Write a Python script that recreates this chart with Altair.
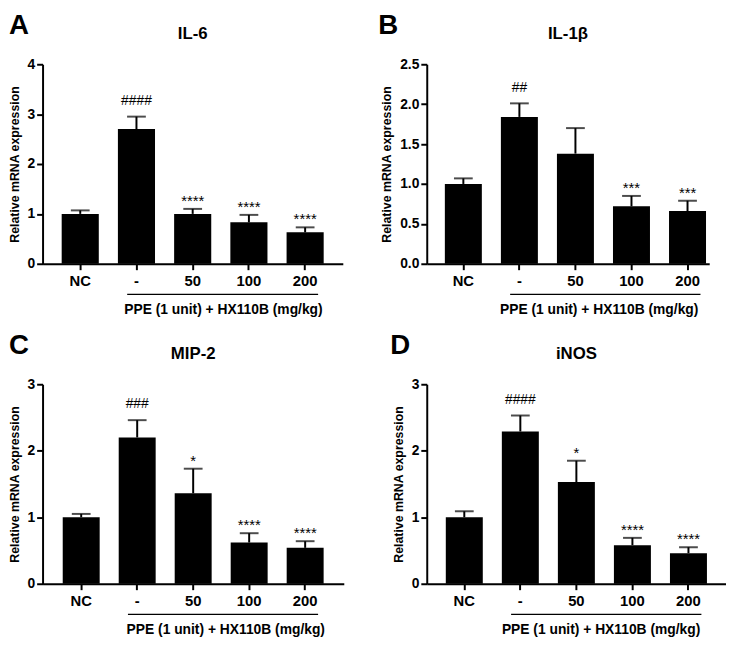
import altair as alt
import pandas as pd

FONT = "Liberation Sans, Arial, Helvetica, sans-serif"

groups = ["NC", "-", "50", "100", "200"]
group_label = "PPE (1 unit) + HX110B (mg/kg)"
y_title = "Relative mRNA expression"

il6_mean = [1.00, 2.70, 1.00, 0.83, 0.63]
il6_sem = [0.07, 0.25, 0.10, 0.15, 0.10]
il6_sig = ["", "####", "****", "****", "****"]

il1b_mean = [1.00, 1.84, 1.38, 0.72, 0.66]
il1b_sem = [0.07, 0.17, 0.32, 0.13, 0.13]
il1b_sig = ["", "##", "", "***", "***"]

mip2_mean = [1.00, 2.20, 1.36, 0.62, 0.54]
mip2_sem = [0.05, 0.26, 0.37, 0.14, 0.10]
mip2_sig = ["", "###", "*", "****", "****"]

inos_mean = [1.00, 2.29, 1.53, 0.58, 0.46]
inos_sem = [0.09, 0.24, 0.32, 0.11, 0.09]
inos_sig = ["", "####", "*", "****", "****"]

H = 202


def panel(letter, title, mean, sem, sig, ymax, ystep, yfmt, width,
          pad_outer, align, letter_x, text_dx):
    df = pd.DataFrame({"group": groups, "mean": mean, "sem": sem, "sig": sig})
    xscale = alt.Scale(domain=groups, paddingInner=0.34,
                       paddingOuter=pad_outer, align=align)
    xaxis = alt.Axis(title=None, labelAngle=0, labelFontSize=15,
                     labelFontWeight="bold", tickSize=6, labelPadding=4,
                     domainWidth=2, tickWidth=2)
    yvals = []
    v = 0.0
    while v <= ymax + 1e-9:
        yvals.append(round(v, 2))
        v += ystep
    yscale = alt.Scale(domain=[0, ymax], nice=False, zero=True)
    yaxis = alt.Axis(values=yvals, format=yfmt, title=y_title, grid=False,
                     labelFontSize=14, labelFontWeight="bold", tickSize=6,
                     labelPadding=2, titleFontSize=12.5, titleFontWeight="bold",
                     titlePadding=6, domainWidth=2, tickWidth=2)

    def X(field="group", **kw):
        return alt.X(f"{field}:N", scale=xscale, axis=xaxis, **kw)

    def Y(field):
        return alt.Y(f"{field}:Q", scale=yscale, axis=yaxis)

    base = alt.Chart(df).transform_calculate(top="datum.mean + datum.sem")

    bars = base.mark_bar(color="black").encode(x=X(), y=Y("mean"))
    err = base.mark_rule(color="black", strokeWidth=2).encode(
        x=X(), y=Y("mean"), y2="top:Q")
    cap = base.mark_tick(color="black", thickness=2, size=19).encode(
        x=X(), y=Y("top"))
    hashes = base.transform_filter("indexof(datum.sig, '#') >= 0").mark_text(
        font=FONT, fontSize=14, baseline="alphabetic", dy=-12, color="black"
    ).encode(x=X(), y=Y("top"), text="sig:N")
    stars = base.transform_filter("indexof(datum.sig, '*') >= 0").mark_text(
        font=FONT, fontSize=15, baseline="alphabetic", dy=-3, color="black"
    ).encode(x=X(), y=Y("top"), text="sig:N")

    line_df = pd.DataFrame({"start": [groups[1]], "end": [groups[-1]]})
    gline = alt.Chart(line_df).mark_rule(color="black", strokeWidth=1.5).encode(
        x=X("start", bandPosition=0.25),
        x2=alt.X2("end:N", bandPosition=0.85),
        y=alt.value(H + 31))
    lab_df = pd.DataFrame({"anchor": [groups[3]], "label": [group_label]})
    glabel = alt.Chart(lab_df).mark_text(
        font=FONT, fontSize=14, fontWeight="bold", baseline="middle",
        dx=text_dx, color="black"
    ).encode(x=X("anchor", bandPosition=0), y=alt.value(H + 47), text="label:N")

    t_df = pd.DataFrame({"letter": [letter], "title": [title]})
    letter_mark = alt.Chart(t_df).mark_text(
        font=FONT, fontSize=28, fontWeight="bold", align="left",
        baseline="alphabetic", color="black"
    ).encode(x=alt.value(letter_x), y=alt.value(-31), text="letter:N")
    title_mark = alt.Chart(t_df).mark_text(
        font=FONT, fontSize=17, fontWeight="bold", align="center",
        baseline="alphabetic", color="black"
    ).encode(x=alt.value(width / 2), y=alt.value(-26), text="title:N")

    return alt.layer(bars, err, cap, hashes, stars, gline, glabel,
                     letter_mark, title_mark).properties(width=width, height=H)


pA = panel("A", "IL-6", il6_mean, il6_sem, il6_sig, 4, 1, "d", 304, 0.34, 0.5, -34, -7)
pB = panel("B", "IL-1β", il1b_mean, il1b_sem, il1b_sig, 2.5, 0.5, ".1f", 286, 0.19, 0.85, -49, -14)
pC = panel("C", "MIP-2", mip2_mean, mip2_sem, mip2_sig, 3, 1, "d", 305, 0.36, 0.5, -34, -5)
pD = panel("D", "iNOS", inos_mean, inos_sem, inos_sig, 3, 1, "d", 303, 0.34, 0.5, -37, -13)

chart = alt.concat(pA, pB, pC, pD, columns=2).properties(
    padding=0,
    spacing={"row": 15, "column": 35},
).resolve_scale(x="independent", y="independent").configure(
    font=FONT
).configure_view(stroke=None).configure_axis(
    labelFont=FONT, titleFont=FONT, labelColor="black", titleColor="black",
    domainColor="black", tickColor="black"
)

chart.save("out.html", embed_options={"renderer": "svg", "actions": False})
